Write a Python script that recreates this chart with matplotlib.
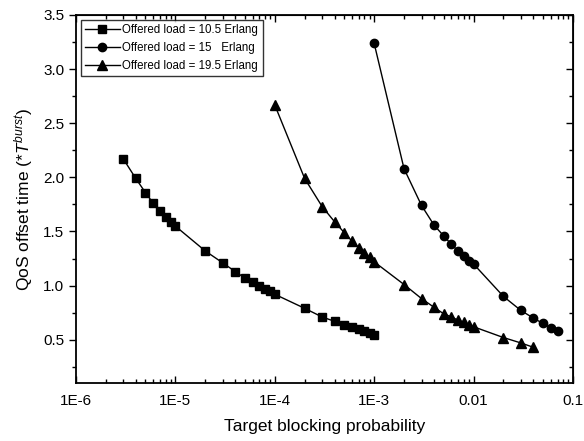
import matplotlib
matplotlib.use('Agg')
import matplotlib.pyplot as plt
import matplotlib.ticker as ticker
import numpy as np

plt.rcParams['font.family'] = ['Liberation Sans', 'DejaVu Sans']
plt.rcParams['mathtext.fontset'] = 'custom'
plt.rcParams['mathtext.rm'] = 'Liberation Sans'
plt.rcParams['mathtext.it'] = 'Liberation Sans:italic'

# Offered load = 10.5 Erlang
p_105 = [3e-6, 4e-6, 5e-6, 6e-6, 7e-6, 8e-6, 9e-6, 1e-5, 2e-5, 3e-5, 4e-5, 5e-5, 6e-5,
         7e-5, 8e-5, 9e-5, 1e-4, 2e-4, 3e-4, 4e-4, 5e-4, 6e-4, 7e-4, 8e-4, 9e-4, 1e-3]
t_105 = [2.17, 1.99, 1.86, 1.76, 1.69, 1.63, 1.59, 1.55, 1.32, 1.21, 1.13, 1.07, 1.03,
         1.00, 0.97, 0.95, 0.92, 0.79, 0.71, 0.67, 0.64, 0.62, 0.60, 0.58, 0.56, 0.54]

# Offered load = 15 Erlang
p_15 = [1e-3, 2e-3, 3e-3, 4e-3, 5e-3, 6e-3, 7e-3, 8e-3, 9e-3, 1e-2,
        2e-2, 3e-2, 4e-2, 5e-2, 6e-2, 7e-2]
t_15 = [3.24, 2.08, 1.74, 1.56, 1.46, 1.38, 1.32, 1.27, 1.23, 1.20,
        0.90, 0.77, 0.70, 0.65, 0.61, 0.58]

# Offered load = 19.5 Erlang
p_195 = [1e-4, 2e-4, 3e-4, 4e-4, 5e-4, 6e-4, 7e-4, 8e-4, 9e-4, 1e-3,
         2e-3, 3e-3, 4e-3, 5e-3, 6e-3, 7e-3, 8e-3, 9e-3, 1e-2, 2e-2, 3e-2, 4e-2]
t_195 = [2.67, 1.99, 1.73, 1.59, 1.49, 1.41, 1.35, 1.30, 1.26, 1.22,
         1.01, 0.88, 0.80, 0.74, 0.71, 0.68, 0.66, 0.64, 0.62, 0.52, 0.47, 0.43]

x_ticks = [1e-6, 1e-5, 1e-4, 1e-3, 1e-2, 1e-1]
x_ticklabels = ['1E-6', '1E-5', '1E-4', '1E-3', '0.01', '0.1']
y_ticks = [0.5, 1.0, 1.5, 2.0, 2.5, 3.0, 3.5]

fig = plt.figure(figsize=(5.84, 4.41), dpi=100)
ax = fig.add_axes([0.130, 0.1315, 0.851, 0.8345])

ax.plot(p_105, t_105, '-s', color='black', lw=1, ms=5.5, label='Offered load = 10.5 Erlang')
ax.plot(p_15, t_15, '-o', color='black', lw=1, ms=6, label='Offered load = 15   Erlang')
ax.plot(p_195, t_195, '-^', color='black', lw=1, ms=6.5, label='Offered load = 19.5 Erlang')

ax.set_xscale('log')
ax.set_xlim(1e-6, 1e-1)
ax.set_ylim(0.1, 3.5)
ax.set_xticks(x_ticks)
ax.set_xticklabels(x_ticklabels)
ax.xaxis.set_minor_locator(ticker.LogLocator(base=10, subs=np.arange(2, 10), numticks=20))
ax.xaxis.set_minor_formatter(ticker.NullFormatter())
ax.set_yticks(y_ticks)
ax.yaxis.set_minor_locator(ticker.MultipleLocator(0.25))

ax.tick_params(axis='y', which='major', direction='out', length=5, width=1, labelsize=11,
               left=True, right=False)
ax.tick_params(axis='y', which='minor', direction='out', length=3, width=1, left=True, right=False)
ax.tick_params(axis='x', which='major', direction='in', length=5, width=1, labelsize=11,
               pad=8, bottom=True, top=False)
ax.tick_params(axis='x', which='minor', direction='in', length=3, width=1, bottom=True, top=False)

# inward ticks on the top and right sides
top = ax.secondary_xaxis('top')
top.set_xticks(x_ticks)
top.xaxis.set_minor_locator(ticker.LogLocator(base=10, subs=np.arange(2, 10), numticks=20))
top.tick_params(which='major', direction='in', length=5, width=1, labeltop=False)
top.tick_params(which='minor', direction='in', length=3, width=1)
top.xaxis.set_minor_formatter(ticker.NullFormatter())
right = ax.secondary_yaxis('right')
right.set_yticks(y_ticks)
right.yaxis.set_minor_locator(ticker.MultipleLocator(0.25))
right.tick_params(which='major', direction='in', length=5, width=1, labelright=False)
right.tick_params(which='minor', direction='in', length=3, width=1)

for s in ax.spines.values():
    s.set_linewidth(1.3)

ax.set_xlabel('Target blocking probability', fontsize=12.5, labelpad=8)
ax.set_ylabel(r'QoS offset time ($*T^{burst}$)', fontsize=12.5, labelpad=6)

leg = ax.legend(loc='upper left', fontsize=8.3, frameon=True, fancybox=False, edgecolor='black',
                handlelength=3.0, handletextpad=0.2, borderpad=0.4, labelspacing=0.5,
                borderaxespad=0.4)
leg.get_frame().set_linewidth(1.0)

fig.savefig('out.png', dpi=100)
